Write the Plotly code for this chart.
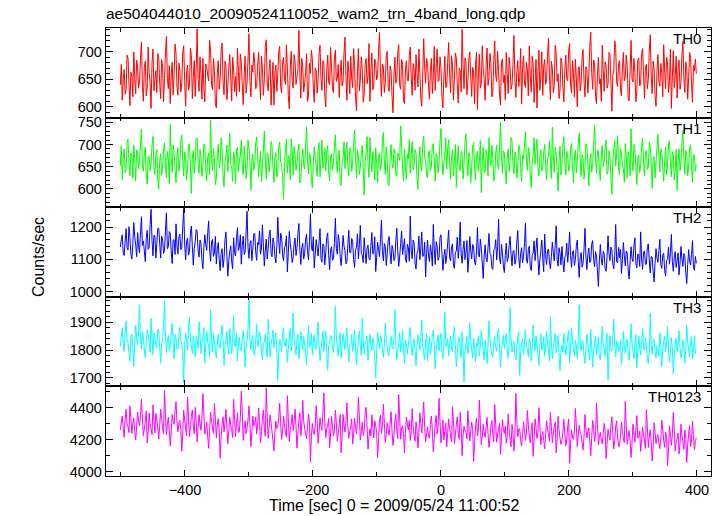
import plotly.graph_objects as go
from plotly.subplots import make_subplots

T_START = -501.0
BIN = 1.5

TH0 = [
 640, 677, 612, 649, 668, 623, 631, 694, 689, 641, 602, 663, 655, 618, 700, 652, 624, 685, 671, 634,
 645, 690, 718, 637, 610, 672, 683, 620, 636, 709, 662, 644, 597, 681, 705, 629, 648, 666, 626, 697,
 690, 643, 615, 686, 674, 609, 652, 698, 728, 651, 633, 675, 606, 658, 681, 622, 659, 714, 697, 638,
 621, 680, 666, 627, 642, 699, 711, 646, 601, 662, 676, 630, 638, 707, 693, 615, 653, 684, 619, 667,
 742, 650, 628, 691, 660, 614, 688, 635, 609, 678, 672, 657, 647, 721, 702, 639, 631, 688, 664, 606,
 598, 661, 684, 632, 650, 704, 716, 645, 622, 683, 675, 613, 639, 672, 695, 654, 611, 690, 667, 628,
 655, 619, 707, 664, 627, 696, 681, 640, 604, 659, 692, 625, 644, 687, 733, 648, 618, 676, 663, 699,
 679, 633, 637, 674, 699, 656, 613, 692, 670, 621, 651, 710, 722, 642, 629, 668, 686, 603, 646, 681,
 603, 660, 676, 628, 658, 701, 710, 637, 625, 682, 690, 652, 641, 713, 669, 620, 596, 673, 701, 647,
 634, 695, 682, 641, 654, 670, 739, 658, 616, 688, 673, 627, 643, 662, 697, 610, 620, 679, 661, 703,
 687, 636, 608, 671, 666, 625, 649, 696, 712, 653, 630, 684, 678, 619, 600, 665, 694, 645, 640, 708,
 671, 632, 626, 689, 703, 646, 652, 677, 617, 660, 685, 638, 645, 699, 727, 655, 612, 683, 663, 624,
 692, 651, 635, 706, 675, 617, 593, 664, 706, 629, 648, 691, 668, 609, 623, 676, 688, 642, 656, 715,
 610, 668, 698, 631, 639, 687, 680, 649, 657, 702, 735, 660, 619, 678, 672, 626, 644, 693, 701, 637,
 628, 674, 666, 620, 589, 657, 690, 643, 651, 700, 713, 639, 632, 686, 677, 611, 606, 669, 684, 648,
 647, 694, 709, 653, 621, 679, 668, 630, 695, 663, 636, 705, 662, 615, 601, 658, 724, 671, 643, 688,
 679, 640, 614, 667, 688, 624, 655, 710, 630, 673, 705, 646, 648, 691, 671, 619, 598, 656, 692, 635,
 638, 682, 717, 659, 626, 693, 674, 612, 650, 698, 689, 641, 607, 670, 665, 627, 741, 676, 633, 689,
 683, 622, 645, 687, 700, 654, 619, 672, 663, 606, 676, 699, 595, 660, 696, 634, 641, 711, 669, 650,
 612, 675, 707, 639, 653, 697, 681, 618, 629, 685, 720, 657, 646, 701, 664, 623, 603, 680, 687, 644,
 658, 613, 699, 661, 624, 690, 672, 632, 640, 677, 730, 649, 617, 663, 684, 637, 652, 706, 605, 670,
 693, 643, 635, 681, 667, 620, 711, 655, 627, 692, 679, 608, 644, 686, 598, 664, 703, 630, 656, 700,
 621, 674, 686, 641, 649, 696, 725, 658, 613, 683, 670, 626, 639, 712, 697, 646, 660, 615, 631, 689,
 678, 636, 609, 666, 694, 651, 647, 702, 715, 640, 625, 684, 662, 618, 687, 653, 600, 671, 673, 629,
 643, 691, 704, 647, 618, 673, 668, 625, 655, 708, 736, 662, 632, 685, 681, 619, 606, 659, 690, 642,
 651, 610, 712, 668, 628, 682, 675, 634, 641, 699, 696, 648, 592, 657, 666, 720, 708, 644, 637, 679,
 684, 631, 620, 671, 699, 647, 654, 694, 673, 616, 611, 666, 721, 652, 645, 688, 663, 609, 627, 685,
 689, 638, 642, 697, 706, 660, 615, 674, 677, 633, 650, 702, 731, 656, 624, 683, 669, 621, 601, 664,
 695, 645, 638, 679, 662, 618, 713, 667, 633, 690, 680, 626, 648, 705, 597, 653, 702, 635, 657, 692,
 616, 670, 685, 632, 644, 694, 719, 651, 626, 682, 671, 614, 653, 699, 690, 640, 608, 675, 666, 687,
 660,
]

TH1 = [
 652, 697, 621, 668, 690, 637, 643, 705, 712, 659, 630, 681, 676, 624, 699, 663, 618, 688, 684, 645,
 661, 702, 735, 650, 640, 679, 694, 626, 611, 673, 672, 641, 655, 700, 718, 647, 633, 676, 688, 619,
 600, 664, 679, 631, 647, 691, 704, 658, 626, 685, 667, 612, 745, 671, 637, 699, 682, 644, 614, 677,
 693, 640, 658, 709, 721, 666, 629, 683, 675, 620, 646, 696, 702, 652, 590, 670, 686, 635, 660, 714,
 714, 657, 635, 689, 671, 628, 652, 701, 697, 643, 619, 674, 680, 632, 755, 669, 641, 692, 665, 610,
 625, 678, 700, 648, 657, 715, 688, 634, 605, 662, 676, 699, 639, 682, 725, 654, 650, 617, 683, 671,
 612, 687, 694, 639, 663, 676, 709, 651, 632, 696, 670, 623, 644, 710, 692, 661, 598, 666, 678, 642,
 656, 703, 717, 673, 628, 659, 685, 616, 648, 690, 730, 667, 622, 681, 674, 638, 661, 707, 697, 649,
 615, 671, 682, 627, 640, 693, 706, 660, 654, 629, 576, 647, 689, 712, 636, 675, 668, 621, 713, 684,
 631, 695, 677, 642, 659, 686, 701, 613, 620, 666, 690, 653, 645, 698, 740, 663, 634, 680, 672, 622,
 603, 658, 695, 670, 651, 628, 684, 704, 627, 667, 710, 646, 662, 691, 641, 683, 698, 636, 618, 673,
 679, 644, 655, 697, 722, 664, 637, 675, 687, 611, 608, 659, 669, 706, 646, 686, 705, 650, 630, 692,
 692, 639, 660, 702, 733, 671, 624, 688, 675, 633, 649, 680, 698, 645, 586, 662, 683, 718, 657, 626,
 716, 668, 639, 684, 671, 620, 693, 657, 614, 676, 680, 642, 653, 704, 727, 661, 633, 695, 666, 608,
 609, 672, 700, 655, 647, 690, 688, 632, 628, 681, 676, 664, 742, 694, 644, 618, 690, 651, 621, 678,
 668, 711, 635, 677, 707, 643, 654, 689, 681, 626, 599, 666, 695, 652, 640, 701, 719, 673, 662, 631,
 626, 684, 686, 641, 650, 697, 702, 663, 617, 679, 674, 636, 658, 708, 736, 669, 632, 656, 679, 715,
 645, 690, 711, 659, 623, 671, 689, 630, 664, 700, 604, 658, 697, 646, 641, 685, 683, 622, 656, 703,
 724, 667, 630, 682, 672, 614, 648, 696, 705, 653, 619, 675, 685, 640, 661, 709, 592, 663, 694, 637,
 638, 688, 677, 629, 715, 665, 652, 698, 670, 618, 627, 681, 699, 654, 645, 692, 750, 672, 636, 686,
 681, 644, 611, 669, 690, 639, 663, 716, 708, 657, 634, 683, 674, 625, 650, 698, 692, 647, 616, 676,
 667, 702, 729, 661, 642, 693, 685, 631, 603, 660, 678, 715, 656, 689, 712, 648, 629, 674, 688, 640,
 647, 681, 700, 655, 621, 668, 673, 708, 660, 624, 739, 676, 637, 694, 682, 643, 595, 665, 696, 632,
 653, 699, 718, 662, 631, 685, 676, 640, 644, 690, 703, 651, 613, 672, 687, 636, 665, 704, 726, 668,
 628, 677, 671, 623, 649, 702, 694, 656, 607, 663, 680, 638, 657, 697, 744, 670, 635, 688, 684, 642,
 619, 674, 698, 650, 662, 693, 710, 634, 640, 686, 675, 626, 588, 664, 689, 709, 652, 679, 720, 645,
 633, 691, 679, 657, 646, 615, 702, 673, 624, 684, 668, 630, 735, 666, 641, 700, 691, 648, 610, 671,
 676, 637, 655, 696, 714, 662, 630, 683, 686, 644, 649, 706, 698, 658, 601, 669, 672, 625, 660, 692,
 723, 675, 638, 690, 683, 646, 617, 661, 695, 632, 654, 701, 708, 659, 627, 684, 677, 620, 645, 689,
 597, 663, 690, 641, 661, 705, 731, 670, 634, 687, 680, 629, 650, 693, 700, 652, 615, 678, 674, 640,
 655,
]

TH2 = [
 1138, 1162, 1176, 1121, 1112, 1154, 1195, 1137, 1129, 1201, 1168, 1116, 1101, 1149, 1214, 1170, 1145, 1108, 1183, 1140,
 1120, 1185, 1232, 1143, 1157, 1126, 1093, 1167, 1190, 1131, 1135, 1208, 1255, 1158, 1111, 1175, 1172, 1104, 1148, 1196,
 1196, 1150, 1104, 1172, 1163, 1118, 1128, 1190, 1244, 1133, 1139, 1186, 1180, 1124, 1087, 1161, 1159, 1115, 1210, 1142,
 1117, 1169, 1178, 1130, 1136, 1198, 1258, 1147, 1098, 1156, 1166, 1113, 1125, 1181, 1203, 1140, 1082, 1134, 1155, 1192,
 1188, 1126, 1107, 1160, 1149, 1098, 1071, 1137, 1176, 1145, 1128, 1183, 1219, 1132, 1094, 1154, 1162, 1109, 1120, 1171,
 1086, 1131, 1152, 1099, 1065, 1118, 1133, 1075, 1102, 1160, 1185, 1111, 1048, 1097, 1124, 1142, 1092, 1070, 1167, 1121,
 1110, 1164, 1198, 1127, 1139, 1176, 1085, 1144, 1172, 1115, 1121, 1186, 1249, 1136, 1103, 1150, 1158, 1096, 1131, 1179,
 1180, 1123, 1097, 1152, 1146, 1188, 1116, 1135, 1207, 1141, 1079, 1129, 1163, 1101, 1134, 1175, 1191, 1119, 1108, 1166,
 1152, 1107, 1089, 1140, 1230, 1157, 1118, 1181, 1170, 1114, 1095, 1136, 1144, 1173, 1061, 1122, 1187, 1148, 1127, 1090,
 1106, 1147, 1166, 1112, 1133, 1180, 1211, 1129, 1084, 1136, 1150, 1101, 1119, 1163, 1178, 1125, 1098, 1155, 1241, 1138,
 1126, 1170, 1073, 1117, 1161, 1135, 1110, 1154, 1195, 1102, 1091, 1148, 1143, 1083, 1122, 1168, 1182, 1114, 1068, 1131,
 1139, 1097, 1104, 1152, 1227, 1134, 1116, 1177, 1158, 1108, 1081, 1125, 1174, 1141, 1127, 1086, 1092, 1146, 1190, 1121,
 1120, 1165, 1156, 1099, 1075, 1128, 1138, 1179, 1101, 1146, 1205, 1118, 1113, 1090, 1167, 1124, 1087, 1135, 1144, 1103,
 1098, 1141, 1183, 1116, 1125, 1170, 1062, 1105, 1153, 1130, 1109, 1162, 1222, 1127, 1095, 1149, 1140, 1081, 1117, 1158,
 1171, 1120, 1086, 1143, 1132, 1096, 1103, 1159, 1196, 1124, 1078, 1110, 1149, 1187, 1115, 1138, 1164, 1100, 1090, 1147,
 1137, 1094, 1234, 1126, 1102, 1160, 1151, 1088, 1070, 1119, 1128, 1172, 1099, 1135, 1185, 1109, 1111, 1153, 1046, 1118,
 1160, 1113, 1093, 1145, 1124, 1079, 1208, 1132, 1084, 1155, 1142, 1097, 1106, 1168, 1176, 1120, 1066, 1108, 1131, 1087,
 1112, 1151, 1190, 1106, 1095, 1138, 1148, 1082, 1072, 1121, 1126, 1169, 1103, 1140, 1215, 1117, 1088, 1131, 1157, 1099,
 1119, 1158, 1060, 1104, 1171, 1127, 1101, 1146, 1139, 1091, 1083, 1124, 1199, 1115, 1107, 1163, 1135, 1089, 1041, 1110,
 1145, 1102, 1092, 1137, 1180, 1118, 1114, 1074, 1069, 1129, 1133, 1161, 1098, 1140, 1225, 1105, 1086, 1147, 1122, 1080,
 1059, 1112, 1150, 1093, 1104, 1142, 1171, 1116, 1080, 1125, 1128, 1085, 1097, 1154, 1189, 1108, 1073, 1119, 1136, 1090,
 1110, 1148, 1212, 1101, 1088, 1130, 1141, 1077, 1065, 1113, 1119, 1157, 1096, 1134, 1166, 1103, 1052, 1098, 1125, 1160,
 1102, 1062, 1178, 1115, 1084, 1127, 1132, 1092, 1070, 1109, 1153, 1121, 1095, 1144, 1204, 1100, 1079, 1136, 1118, 1083,
 1140, 1097, 1061, 1106, 1113, 1150, 1091, 1128, 1185, 1111, 1075, 1123, 1127, 1081, 1099, 1143, 1160, 1094, 1044, 1105,
 1121, 1076, 1087, 1132, 1196, 1108, 1068, 1115, 1135, 1090, 1094, 1147, 1158, 1102, 1077, 1124, 1110, 1064, 1016, 1098,
 1146, 1100, 1082, 1125, 1117, 1072, 1063, 1108, 1173, 1119, 1096, 1138, 1129, 1085, 1071, 1112, 1208, 1093, 1089, 1137,
 1105, 1131, 1056, 1098, 1152, 1111, 1080, 1126, 1120, 1067, 1039, 1092, 1139, 1103, 1093, 1144, 1167, 1087, 1074, 1116,
 1114, 1078, 1185, 1101, 1069, 1122, 1126, 1084, 1086, 1140, 1148, 1095, 1058, 1109, 1107, 1062, 1030, 1088, 1133, 1104,
 1091, 1127, 1162, 1083, 1072, 1113, 1119, 1066, 1048, 1096, 1102, 1138, 1085, 1121, 1177, 1094, 1063, 1106, 1124, 1075,
 1097, 1120, 1052, 1089, 1140, 1101, 1078, 1118, 1111, 1060, 1025, 1084, 1130, 1093, 1082, 1115, 1158, 1074, 1066, 1109,
 1088,
]

TH3 = [
 1812, 1851, 1880, 1823, 1795, 1862, 1905, 1838, 1826, 1788, 1760, 1847, 1858, 1806, 1741, 1829, 1890, 1843, 1820, 1870,
 1962, 1834, 1805, 1866, 1848, 1801, 1772, 1827, 1873, 1855, 1829, 1793, 1915, 1842, 1784, 1861, 1845, 1816, 1808, 1876,
 1869, 1810, 1752, 1821, 1837, 1884, 1979, 1846, 1790, 1833, 1852, 1798, 1815, 1864, 1896, 1825, 1768, 1857, 1841, 1803,
 1804, 1859, 1884, 1831, 1826, 1778, 1683, 1817, 1861, 1840, 1797, 1872, 1918, 1836, 1819, 1787, 1852, 1824, 1776, 1849,
 1839, 1807, 1902, 1853, 1787, 1828, 1850, 1881, 1755, 1818, 1867, 1832, 1813, 1776, 1944, 1845, 1793, 1860, 1835, 1799,
 1770, 1824, 1858, 1809, 1806, 1852, 1889, 1838, 1745, 1817, 1832, 1868, 1811, 1785, 1877, 1828, 1788, 1846, 1925, 1814,
 1816, 1863, 1760, 1822, 1846, 1800, 1799, 1840, 1870, 1826, 1738, 1809, 1835, 1876, 1982, 1831, 1802, 1845, 1854, 1790,
 1781, 1837, 1893, 1812, 1820, 1866, 1847, 1795, 1764, 1825, 1829, 1858, 1805, 1774, 1911, 1839, 1776, 1819, 1843, 1871,
 1808, 1846, 1862, 1804, 1689, 1786, 1838, 1827, 1793, 1859, 1880, 1817, 1815, 1842, 1756, 1803, 1851, 1878, 1797, 1823,
 1934, 1842, 1812, 1784, 1840, 1857, 1769, 1813, 1866, 1826, 1801, 1849, 1823, 1792, 1746, 1830, 1887, 1810, 1818, 1861,
 1784, 1829, 1855, 1803, 1806, 1850, 1901, 1821, 1762, 1797, 1834, 1868, 1795, 1837, 1868, 1789, 1727, 1815, 1826, 1853,
 1847, 1811, 1790, 1832, 1958, 1848, 1808, 1779, 1836, 1862, 1771, 1819, 1859, 1826, 1802, 1845, 1880, 1807, 1758, 1820,
 1821, 1856, 1795, 1829, 1873, 1808, 1747, 1800, 1842, 1868, 1810, 1781, 1916, 1836, 1786, 1822, 1833, 1851, 1763, 1814,
 1857, 1816, 1798, 1843, 1825, 1772, 1699, 1794, 1864, 1833, 1805, 1852, 1838, 1801, 1775, 1819, 1897, 1840, 1812, 1783,
 1780, 1836, 1849, 1811, 1803, 1856, 1945, 1826, 1766, 1795, 1830, 1862, 1792, 1818, 1871, 1804, 1752, 1837, 1824, 1787,
 1816, 1853, 1882, 1806, 1781, 1827, 1840, 1794, 1743, 1813, 1855, 1831, 1801, 1848, 1909, 1820, 1788, 1765, 1829, 1858,
 1760, 1812, 1846, 1787, 1808, 1849, 1872, 1819, 1733, 1798, 1824, 1855, 1797, 1836, 1861, 1791, 1770, 1827, 1937, 1815,
 1811, 1842, 1779, 1820, 1850, 1804, 1795, 1858, 1884, 1816, 1740, 1789, 1832, 1847, 1806, 1773, 1865, 1813, 1684, 1796,
 1822, 1849, 1786, 1810, 1896, 1835, 1801, 1772, 1843, 1808, 1757, 1826, 1815, 1853, 1779, 1812, 1869, 1838, 1790, 1763,
 1835, 1800, 1751, 1817, 1904, 1845, 1808, 1782, 1774, 1830, 1849, 1811, 1796, 1859, 1878, 1806, 1738, 1793, 1827, 1854,
 1806, 1838, 1860, 1797, 1772, 1824, 1953, 1843, 1793, 1815, 1831, 1780, 1765, 1809, 1846, 1866, 1709, 1790, 1819, 1841,
 1785, 1821, 1873, 1810, 1804, 1775, 1841, 1829, 1761, 1803, 1890, 1836, 1799, 1852, 1825, 1787, 1744, 1814, 1857, 1800,
 1812, 1848, 1777, 1807, 1867, 1824, 1795, 1760, 1921, 1831, 1768, 1802, 1833, 1859, 1790, 1817, 1852, 1784, 1726, 1799,
 1818, 1792, 1861, 1826, 1783, 1813, 1844, 1871, 1756, 1805, 1880, 1833, 1801, 1778, 1836, 1815, 1770, 1840, 1962, 1822,
 1797, 1834, 1829, 1781, 1752, 1806, 1858, 1823, 1790, 1765, 1874, 1812, 1738, 1796, 1819, 1850, 1784, 1808, 1847, 1773,
 1766, 1818, 1885, 1827, 1803, 1779, 1834, 1860, 1692, 1786, 1852, 1809, 1796, 1841, 1911, 1811, 1775, 1832, 1826, 1794,
 1808, 1837, 1747, 1801, 1866, 1815, 1789, 1828, 1840, 1782, 1763, 1813, 1895, 1824, 1800, 1770, 1823, 1856, 1735, 1797,
 1851, 1806, 1782, 1829, 1878, 1811, 1798, 1845, 1816, 1764, 1752, 1803, 1933, 1820, 1787, 1834, 1839, 1793, 1771, 1817,
 1810, 1777, 1862, 1816, 1741, 1799, 1829, 1850, 1794, 1822, 1885, 1804, 1758, 1788, 1846, 1812, 1715, 1783, 1821, 1843,
 1796, 1825, 1870, 1808, 1772, 1790, 1836, 1814, 1753, 1802, 1889, 1831, 1801, 1776, 1827, 1848, 1768, 1805, 1852, 1787,
 1784,
]

TH0123 = [
 4262, 4310, 4348, 4271, 4215, 4326, 4390, 4297, 4281, 4244, 4410, 4338, 4239, 4302, 4336, 4256, 4198, 4285, 4372, 4316,
 4287, 4355, 4452, 4333, 4226, 4268, 4318, 4379, 4180, 4249, 4365, 4301, 4270, 4232, 4418, 4321, 4243, 4364, 4329, 4276,
 4205, 4289, 4391, 4330, 4275, 4236, 4508, 4352, 4231, 4299, 4340, 4258, 4162, 4247, 4358, 4317, 4296, 4381, 4437, 4311,
 4250, 4307, 4321, 4265, 4128, 4241, 4383, 4324, 4269, 4225, 4466, 4339, 4218, 4281, 4344, 4386, 4290, 4237, 4402, 4314,
 4188, 4279, 4356, 4302, 4259, 4334, 4487, 4361, 4235, 4270, 4310, 4222, 4147, 4261, 4372, 4318, 4277, 4240, 4425, 4329,
 4212, 4293, 4331, 4260, 4085, 4217, 4295, 4343, 4248, 4304, 4389, 4275, 4176, 4254, 4340, 4289, 4262, 4215, 4451, 4326,
 4220, 4301, 4368, 4245, 4254, 4339, 4503, 4372, 4196, 4263, 4319, 4238, 4273, 4328, 4411, 4296, 4158, 4252, 4346, 4287,
 4294, 4342, 4237, 4290, 4398, 4313, 4181, 4251, 4332, 4384, 4266, 4223, 4524, 4347, 4209, 4276, 4355, 4309, 4250, 4193,
 4130, 4246, 4316, 4270, 4283, 4337, 4427, 4304, 4202, 4258, 4349, 4292, 4241, 4216, 4474, 4331, 4189, 4263, 4298, 4357,
 4258, 4307, 4391, 4284, 4148, 4239, 4325, 4368, 4226, 4291, 4445, 4315, 4271, 4232, 4206, 4279, 4360, 4311, 4064, 4219,
 4302, 4247, 4233, 4294, 4412, 4320, 4178, 4252, 4337, 4286, 4259, 4372, 4492, 4308, 4214, 4270, 4288, 4333, 4150, 4236,
 4345, 4281, 4225, 4260, 4384, 4309, 4192, 4243, 4300, 4356, 4120, 4222, 4358, 4291, 4247, 4315, 4430, 4274, 4209, 4253,
 4281, 4330, 4174, 4238, 4333, 4279, 4236, 4301, 4465, 4342, 4198, 4250, 4310, 4227, 4256, 4366, 4402, 4289, 4142, 4220,
 4268, 4224, 4356, 4275, 4211, 4317, 4290, 4244, 4089, 4201, 4327, 4352, 4240, 4285, 4421, 4303, 4183, 4233, 4306, 4262,
 4229, 4294, 4375, 4258, 4165, 4226, 4319, 4361, 4252, 4207, 4481, 4335, 4203, 4273, 4287, 4238, 4118, 4256, 4341, 4299,
 4261, 4320, 4196, 4248, 4394, 4283, 4228, 4191, 4312, 4269, 4150, 4235, 4367, 4302, 4243, 4340, 4435, 4278, 4187, 4231,
 4279, 4221, 4210, 4296, 4348, 4264, 4126, 4213, 4302, 4351, 4235, 4282, 4458, 4316, 4181, 4240, 4323, 4199, 4252, 4305,
 4157, 4246, 4330, 4270, 4219, 4187, 4406, 4311, 4175, 4229, 4296, 4342, 4238, 4203, 4370, 4288, 4102, 4227, 4284, 4255,
 4248, 4206, 4381, 4289, 4193, 4251, 4310, 4268, 4066, 4190, 4273, 4335, 4226, 4257, 4447, 4305, 4170, 4219, 4297, 4243,
 4215, 4276, 4339, 4241, 4153, 4209, 4287, 4320, 4232, 4189, 4419, 4296, 4186, 4237, 4262, 4301, 4110, 4218, 4325, 4264,
 4240, 4283, 4178, 4224, 4361, 4267, 4204, 4158, 4296, 4249, 4130, 4211, 4488, 4322, 4219, 4266, 4271, 4193, 4162, 4235,
 4313, 4252, 4196, 4238, 4382, 4291, 4225, 4181, 4259, 4306, 4097, 4214, 4330, 4273, 4208, 4245, 4401, 4290, 4170, 4221,
 4252, 4196, 4144, 4230, 4318, 4269, 4229, 4190, 4370, 4281, 4182, 4236, 4283, 4310, 4120, 4205, 4346, 4264, 4210, 4172,
 4196, 4248, 4327, 4237, 4161, 4207, 4280, 4329, 4054, 4174, 4262, 4218, 4203, 4259, 4395, 4286, 4158, 4226, 4291, 4244,
 4233, 4181, 4137, 4220, 4357, 4263, 4212, 4249, 4274, 4193, 4101, 4208, 4320, 4270, 4189, 4235, 4426, 4296, 4168, 4215,
 4246, 4199, 4175, 4238, 4302, 4254, 4084, 4170, 4265, 4227, 4198, 4289, 4344, 4241, 4143, 4196, 4285, 4318, 4219, 4160,
 4160, 4229, 4311, 4252, 4206, 4183, 4439, 4280, 4172, 4221, 4258, 4197, 4090, 4175, 4297, 4243, 4184, 4261, 4350, 4212,
 4214, 4256, 4128, 4203, 4279, 4230, 4191, 4146, 4388, 4272, 4152, 4224, 4263, 4189, 4068, 4157, 4306, 4247, 4177, 4216,
 4233, 4180, 4145, 4211, 4322, 4264, 4198, 4153, 4250, 4207, 4037, 4139, 4287, 4238, 4166, 4225, 4370, 4259, 4129, 4192,
 4205, 4242, 4112, 4176, 4296, 4230, 4183, 4141, 4261, 4209, 4060, 4168, 4241, 4288, 4158, 4197, 4315, 4226, 4138, 4188,
 4214,
]

SERIES_NAMES = ["TH0", "TH1", "TH2", "TH3", "TH0123"]
SERIES = [TH0, TH1, TH2, TH3, TH0123]
COLORS = ["#ff0000", "#00ff00", "#0000ff", "#00ffff", "#ff00ff"]
Y_RANGES = [[580.4, 743.4], [559, 760.5], [984, 1261.5], [1669, 1992], [3975, 4532]]
Y_MAJOR = [50, 50, 100, 100, 200]
Y_MINOR = [10, 10, 20, 20, 100]
X_RANGE = [-523.4, 421.9]
X_TICKS = [-400, -200, 0, 200, 400]
X_MINOR = [-500, -300, -100, 100, 300]

TITLE = "ae504044010_20090524110052_wam2_trn_4band_long.qdp"
XTITLE = "Time [sec] 0 = 2009/05/24 11:00:52"
YTITLE = "Counts/sec"

FONT = "Liberation Sans, Arial, Helvetica, sans-serif"

W, H = 724, 516
ML, MR, MT, MB = 106, 13, 28, 40

fig = make_subplots(rows=5, cols=1, shared_xaxes=True, vertical_spacing=0)

for i, (name, vals) in enumerate(zip(SERIES_NAMES, SERIES)):
    t = [T_START + BIN * k for k in range(len(vals))]
    fig.add_trace(go.Scatter(x=t, y=vals, mode="lines",
                             line=dict(color=COLORS[i], width=1, simplify=False),
                             showlegend=False, hoverinfo="skip"),
                  row=i + 1, col=1)
    fig.update_yaxes(range=Y_RANGES[i], dtick=Y_MAJOR[i], tick0=0,
                     ticks="inside", ticklen=7, tickwidth=1, tickcolor="black",
                     minor=dict(dtick=Y_MINOR[i], tick0=0, ticks="inside",
                                ticklen=4, tickcolor="black", tickwidth=1),
                     showline=True, linecolor="black", linewidth=1.3,
                     mirror="allticks", showgrid=False, zeroline=False,
                     tickfont=dict(family=FONT, size=14.5, color="black"),
                     row=i + 1, col=1)
    fig.update_xaxes(range=X_RANGE, tickvals=X_TICKS,
                     ticks="inside", ticklen=6, tickwidth=1, tickcolor="black",
                     minor=dict(tickvals=X_MINOR,
                                ticks="inside", ticklen=3.5, tickcolor="black",
                                tickwidth=1),
                     showline=True, linecolor="black", linewidth=1.3,
                     mirror="allticks", showgrid=False, zeroline=False,
                     tickfont=dict(family=FONT, size=14.5, color="black"),
                     row=i + 1, col=1)

plot_h = H - MT - MB
panel_h = plot_h / 5.0
annotations = []
for i, name in enumerate(SERIES_NAMES):
    ytop_px = MT + i * panel_h + 10.5
    annotations.append(dict(
        text=name, xref="paper", yref="paper",
        x=(702.5 - ML) / (W - ML - MR), y=1 - (ytop_px - MT) / plot_h,
        xanchor="right", yanchor="middle", showarrow=False,
        font=dict(family=FONT, size=15, color="black")))

annotations.append(dict(
    text=XTITLE, xref="paper", yref="paper",
    x=(394 - ML) / (W - ML - MR), y=-(505 - (H - MB)) / plot_h,
    xanchor="center", yanchor="middle", showarrow=False,
    font=dict(family=FONT, size=16, color="black")))
annotations.append(dict(
    text=YTITLE, xref="paper", yref="paper", textangle=-90,
    x=-(ML - 38) / (W - ML - MR), y=1 - (257 - MT) / plot_h,
    xanchor="center", yanchor="middle", showarrow=False,
    font=dict(family=FONT, size=16, color="black")))

fig.update_layout(
    width=W, height=H,
    margin=dict(l=ML, r=MR, t=MT, b=MB),
    paper_bgcolor="white", plot_bgcolor="white",
    title=dict(text=TITLE, x=ML / W, xanchor="left", xref="container",
               y=1 - 14 / H, yanchor="middle", yref="container",
               font=dict(family=FONT, size=15.5, color="black")),
    annotations=annotations,
    font=dict(family=FONT, color="black"),
)

fig.write_html("out.html",
               config={"displayModeBar": False},
               post_script="document.body.style.margin='0';"
                           "document.body.style.overflow='hidden';")
